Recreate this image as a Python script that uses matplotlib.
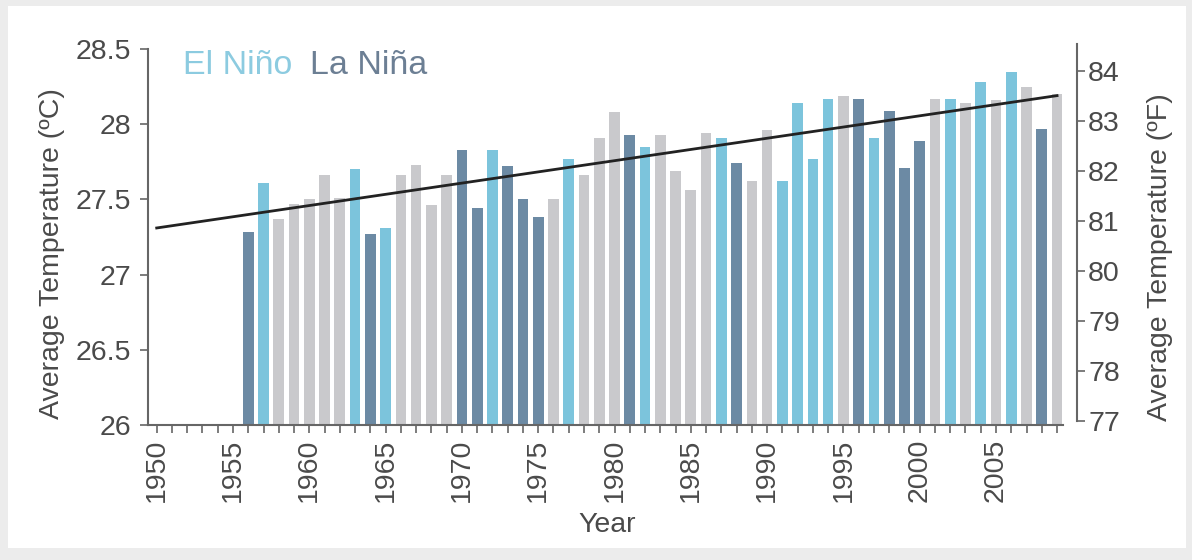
import matplotlib
matplotlib.use("Agg")
import matplotlib.pyplot as plt
from matplotlib.patches import Rectangle
import numpy as np

plt.rcParams['font.family'] = ['Liberation Sans', 'DejaVu Sans']

# Data
years = list(range(1956, 2010))
temps_c = [27.28, 27.61, 27.37, 27.47, 27.50, 27.66, 27.51, 27.70, 27.27, 27.31,
           27.66, 27.73, 27.46, 27.66, 27.83, 27.44, 27.83, 27.72, 27.50, 27.38,
           27.50, 27.77, 27.66, 27.91, 28.08, 27.93, 27.85, 27.93, 27.69, 27.56,
           27.94, 27.91, 27.74, 27.62, 27.96, 27.62, 28.14, 27.77, 28.17, 28.19,
           28.17, 27.91, 28.09, 27.71, 27.89, 28.17, 28.17, 28.14, 28.28, 28.16,
           28.35, 28.25, 27.97, 28.20]
# N = El Niño, L = La Niña, o = neutral
phase = ['L', 'N', 'o', 'o', 'o', 'o', 'o', 'N', 'L', 'N',
         'o', 'o', 'o', 'o', 'L', 'L', 'N', 'L', 'L', 'L',
         'o', 'N', 'o', 'o', 'o', 'L', 'N', 'o', 'o', 'o',
         'o', 'N', 'L', 'o', 'o', 'N', 'N', 'N', 'N', 'o',
         'L', 'N', 'L', 'L', 'L', 'o', 'N', 'o', 'N', 'o',
         'N', 'o', 'L', 'o']
trend_years = [1950, 2009]
trend_temps = [27.31, 28.19]

phase_colors = {'N': '#7cc4dc', 'L': '#6c8aa4', 'o': '#c9c9cc'}
bar_colors = [phase_colors[p] for p in phase]

text_col = '#4a4a4a'
spine_col = '#666666'
fs = 20.5

fig = plt.figure(figsize=(11.92, 5.6), dpi=100, facecolor='#ececec')
fig.patches.append(Rectangle((8 / 1192, 12 / 560), 1178 / 1192, 542 / 560,
                             transform=fig.transFigure, facecolor='white',
                             edgecolor='none', zorder=-10))

ax = fig.add_axes([148 / 1192, 135 / 560, 915 / 1192, 376 / 560])
ax.patch.set_alpha(0)
ax.bar(years, temps_c, width=0.7, color=bar_colors, zorder=2)
ax.plot(trend_years, trend_temps, color='#222222', lw=2, zorder=3)

ax.set_xlim(1949.43, 2009.39)
ax.set_ylim(26, 28.5)
ax.set_yticks([26, 26.5, 27, 27.5, 28, 28.5])
ax.set_yticklabels(['26', '26.5', '27', '27.5', '28', '28.5'])
ax.set_xticks(range(1950, 2010, 5))
ax.set_xticks(range(1950, 2010), minor=True)
ax.tick_params(axis='x', which='both', direction='out', length=6, width=1.2,
               color=spine_col, labelrotation=90, labelsize=fs,
               labelcolor=text_col, pad=4)
ax.tick_params(axis='y', direction='out', length=6, width=1.2, color=spine_col,
               labelsize=fs, labelcolor=text_col, pad=6)
for s in ['top', 'right']:
    ax.spines[s].set_visible(False)
for s in ['left', 'bottom']:
    ax.spines[s].set_color(spine_col)
    ax.spines[s].set_linewidth(1.5)

ax.set_ylabel('Average Temperature (ºC)', fontsize=fs, color=text_col)
ax.yaxis.set_label_coords(-0.0907, 0.455)
ax.set_xlabel('Year', fontsize=fs, color=text_col)
ax.xaxis.set_label_coords(0.502, -0.232)

ax.text(0.038, 0.957, 'El Niño', transform=ax.transAxes, fontsize=24.5,
        color='#8ccbe0', va='center', ha='left')
ax.text(0.177, 0.957, 'La Niña', transform=ax.transAxes, fontsize=24.5,
        color='#6c7f94', va='center', ha='left')

# Fahrenheit scale on a separate right axis
ax2 = fig.add_axes([148 / 1192, 139 / 560, 929 / 1192, 377 / 560])
ax2.patch.set_alpha(0)
ax2.set_ylim(77, 84.54)
ax2.set_yticks(range(77, 85))
ax2.set_xticks([])
for s in ['top', 'left', 'bottom']:
    ax2.spines[s].set_visible(False)
ax2.spines['right'].set_color(spine_col)
ax2.spines['right'].set_linewidth(1.5)
ax2.yaxis.tick_right()
ax2.yaxis.set_label_position('right')
ax2.tick_params(axis='y', direction='out', length=6, width=1.2, color=spine_col,
                labelsize=fs, labelcolor=text_col, pad=2)
ax2.set_ylabel('Average Temperature (ºF)', fontsize=fs, color=text_col)
ax2.yaxis.set_label_coords(1.075, 0.435)

fig.savefig('out.png', dpi=100, facecolor=fig.get_facecolor())
